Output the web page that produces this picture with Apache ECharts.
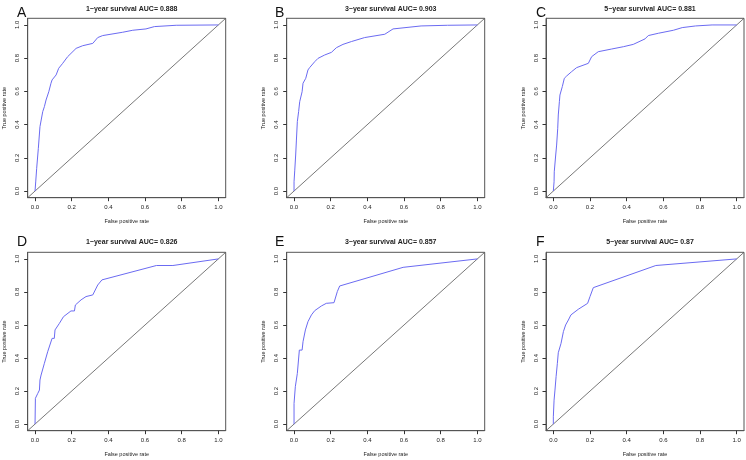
<!DOCTYPE html>
<html>
<head>
<meta charset="utf-8">
<script src="https://cdn.jsdelivr.net/npm/echarts@6/dist/echarts.min.js"></script>
<style>html,body{margin:0;padding:0;background:#fff;}#c{width:746px;height:460px;}</style>
</head>
<body>
<div id="c"></div>
<script>
const panelLetters = ['A','B','C','D','E','F'];
const panelTitles = [
  '1\u2212year survival AUC= 0.888',
  '3\u2212year survival AUC= 0.903',
  '5\u2212year survival AUC= 0.881',
  '1\u2212year survival AUC= 0.826',
  '3\u2212year survival AUC= 0.857',
  '5\u2212year survival AUC= 0.87'
];
const tickValues = [0, 0.2, 0.4, 0.6, 0.8, 1.0];
const diagX = [-0.04, 1.04];
const diagY = [-0.04, 1.04];

const fprA = [0,0.004,0.009,0.018,0.027,0.033,0.042,0.051,0.06,0.075,0.087,0.093,0.115,0.129,0.151,0.178,0.224,0.26,0.315,0.342,0.369,0.478,0.533,0.605,0.651,0.77,1];
const tprA = [0,0.06,0.137,0.257,0.388,0.40,0.478,0.508,0.548,0.598,0.649,0.669,0.699,0.739,0.769,0.809,0.859,0.875,0.889,0.924,0.936,0.956,0.968,0.976,0.99,0.998,1];

const fprB = [0,0,0.004,0.009,0.013,0.018,0.025,0.031,0.044,0.049,0.064,0.076,0.085,0.113,0.131,0.167,0.204,0.231,0.267,0.313,0.385,0.495,0.503,0.54,0.693,0.837,1];
const tprB = [0,0.056,0.126,0.217,0.307,0.418,0.478,0.538,0.598,0.649,0.679,0.729,0.743,0.779,0.799,0.819,0.835,0.863,0.883,0.90,0.924,0.944,0.95,0.976,0.994,0.998,1];

const fprC = [0,0.004,0.005,0.013,0.018,0.024,0.027,0.033,0.036,0.049,0.06,0.073,0.1,0.127,0.191,0.209,0.245,0.318,0.382,0.436,0.5,0.518,0.573,0.655,0.703,0.776,0.866,1];
const tprC = [0,0.056,0.116,0.217,0.277,0.378,0.458,0.538,0.578,0.629,0.679,0.693,0.719,0.743,0.769,0.809,0.839,0.855,0.869,0.883,0.916,0.936,0.95,0.968,0.984,0.994,1,1];

const fprD = [0,0.002,0.015,0.024,0.027,0.033,0.051,0.069,0.093,0.105,0.109,0.133,0.155,0.196,0.215,0.22,0.251,0.278,0.315,0.342,0.365,0.662,0.752,1];
const tprD = [0,0.156,0.186,0.206,0.267,0.297,0.368,0.438,0.519,0.519,0.57,0.61,0.65,0.685,0.685,0.721,0.752,0.772,0.782,0.842,0.873,0.96,0.96,1];

const fprE = [0,0,0.007,0.018,0.029,0.044,0.049,0.062,0.076,0.095,0.113,0.149,0.176,0.218,0.236,0.249,0.595,1];
const tprE = [0,0.125,0.226,0.307,0.448,0.448,0.499,0.57,0.62,0.661,0.687,0.715,0.731,0.735,0.802,0.836,0.949,1];

const fprF = [0,0,0.004,0.009,0.015,0.022,0.027,0.035,0.042,0.055,0.067,0.082,0.096,0.136,0.187,0.2,0.218,0.559,1];
const tprF = [0,0.044,0.145,0.206,0.287,0.368,0.432,0.432,0.489,0.56,0.60,0.63,0.661,0.695,0.731,0.772,0.826,0.96,1];

const fprs = [fprA, fprB, fprC, fprD, fprE, fprF];
const tprs = [tprA, tprB, tprC, tprD, tprE, tprF];

const colLefts = [27.7, 286.7, 546];
const rowTops = [18.3, 252.3];
const rowHeights = [179.4, 178.4];
const plotW = 198;
const font = 'Liberation Sans, Arial, sans-serif';

const grids = [], xAxes = [], yAxes = [], series = [], titles = [];
for (let i = 0; i < 6; i++) {
  const r = Math.floor(i / 3), c = i % 3;
  const left = colLefts[c], top = rowTops[r], h = rowHeights[r];
  grids.push({left: left, top: top, width: plotW, height: h, show: true, borderColor: '#555', borderWidth: 1, backgroundColor: 'transparent'});
  const axisCommon = {
    type: 'value', gridIndex: i, min: -0.04, max: 1.04,
    splitLine: {show: false},
    axisLine: {show: true, onZero: false, lineStyle: {color: '#555', width: 1}},
    axisTick: {show: true, inside: false, length: 3.5, customValues: tickValues, lineStyle: {color: '#333', width: 1}},
    nameLocation: 'middle',
    nameTextStyle: {fontFamily: font, fontSize: 5.5, color: '#222'}
  };
  xAxes.push(Object.assign({}, axisCommon, {
    position: 'bottom',
    name: 'False positive rate', nameGap: 20.5,
    axisLabel: {customValues: tickValues, formatter: v => v.toFixed(1), margin: 7, fontFamily: font, fontSize: 6, color: '#222'}
  }));
  yAxes.push(Object.assign({}, axisCommon, {
    position: 'left',
    name: 'True positive rate', nameGap: 20,
    axisLabel: {customValues: tickValues, formatter: v => v.toFixed(1), rotate: 90, margin: 7, fontFamily: font, fontSize: 6, color: '#222'}
  }));
  series.push({
    type: 'line', xAxisIndex: i, yAxisIndex: i, symbol: 'none', silent: true, animation: false,
    data: diagX.map((x, k) => [x, diagY[k]]),
    lineStyle: {color: '#555', width: 0.8}, clip: true
  });
  series.push({
    type: 'line', xAxisIndex: i, yAxisIndex: i, symbol: 'none', silent: true, animation: false,
    data: fprs[i].map((x, k) => [x, tprs[i][k]]),
    lineStyle: {color: '#6b6bf2', width: 1}, clip: true
  });
  titles.push({
    text: panelTitles[i], left: left + plotW / 2, top: r === 0 ? 1 : 234, textAlign: 'center',
    textStyle: {fontFamily: font, fontSize: 7, fontWeight: 'bold', color: '#222'}
  });
  titles.push({
    text: panelLetters[i], left: c === 0 ? 12 : (c === 1 ? 270 : 531), top: r === 0 ? 1 : 230,
    textStyle: {fontFamily: font, fontSize: 14, fontWeight: 'normal', color: '#111'}
  });
}

const chart = echarts.init(document.getElementById('c'), null, {renderer: 'canvas'});
chart.setOption({
  animation: false,
  backgroundColor: '#fff',
  title: titles,
  grid: grids,
  xAxis: xAxes,
  yAxis: yAxes,
  series: series
});
</script>
</body>
</html>
